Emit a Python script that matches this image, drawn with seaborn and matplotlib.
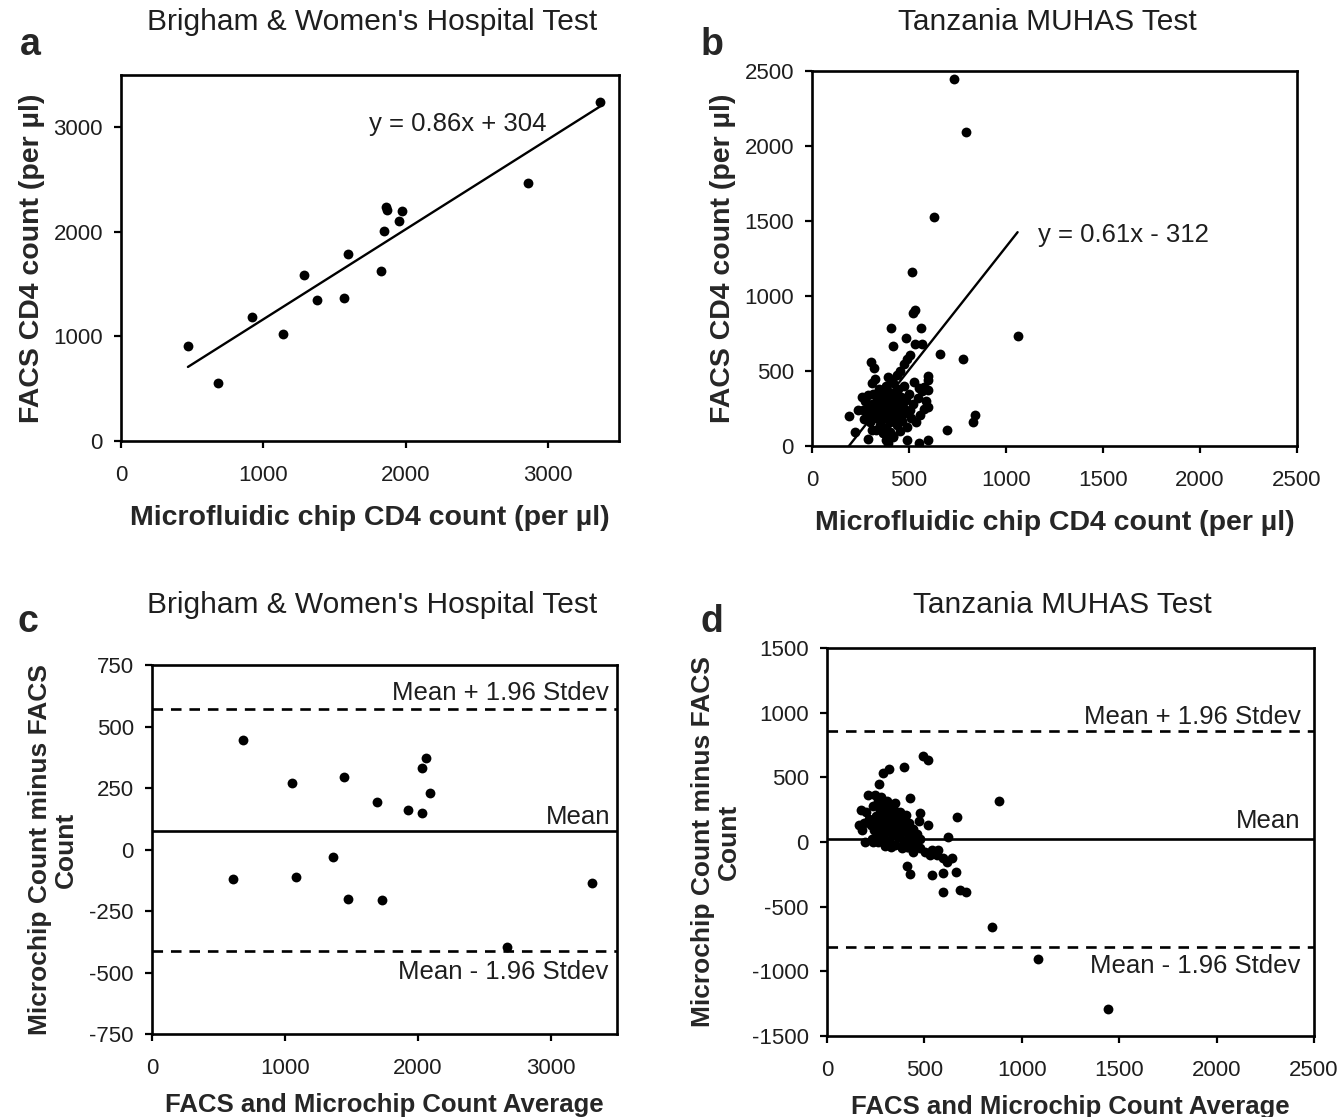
import matplotlib
matplotlib.use("Agg")
import matplotlib.pyplot as plt
import pandas as pd
import seaborn as sns

# --- panel a: Brigham & Women's, chip vs FACS ---
bwh_chip = [470, 680, 920, 1140, 1285, 1375, 1565, 1595, 1830, 1850, 1865, 1870, 1950, 1975, 2860, 3365]
bwh_facs = [910, 550, 1190, 1020, 1590, 1350, 1365, 1790, 1630, 2005, 2240, 2205, 2100, 2200, 2470, 3240]
bwh_slope, bwh_icpt = 0.86, 304

# --- panel b: Tanzania MUHAS, chip vs FACS ---
tz_chip = [734, 794, 629, 514, 531, 523, 405, 560, 419, 485, 531, 565, 660, 780, 1060, 302, 320, 505,
           490, 472, 455, 440, 393, 410, 600, 600, 600, 600, 192, 239, 265, 222, 290, 694, 840, 828,
           393, 488, 552, 600, 308, 330, 402, 550, 575,
           260, 275, 285, 292, 300, 308, 315, 322, 330, 335, 340, 348, 352, 358, 362, 368, 372, 376,
           380, 384, 388, 392, 396, 400, 404, 408, 412, 416, 420, 424, 428, 432, 436, 440, 444, 448,
           452, 456, 460, 465, 470, 475, 480, 486, 492, 498, 505, 512, 520, 528, 536, 545, 555, 565,
           580, 590, 270, 290, 310, 330, 350, 370, 390, 410, 430, 450, 345, 365, 420, 380, 325]
tz_facs = [2445, 2093, 1525, 1162, 907, 884, 789, 789, 669, 722, 678, 678, 611, 578, 733, 562, 518, 607,
           580, 545, 500, 475, 462, 440, 467, 440, 373, 262, 200, 240, 240, 96, 44, 107, 207, 162,
           22, 40, 22, 40, 107, 107, 96, 390, 395,
           330, 300, 250, 200, 160, 280, 350, 230, 190, 310, 260, 380, 140, 220, 300, 180, 340, 250,
           400, 120, 290, 210, 360, 160, 270, 320, 230, 70, 420, 190, 300, 350, 140, 250, 380, 210,
           290, 100, 330, 170, 260, 400, 220, 310, 130, 350, 240, 190, 280, 430, 160, 320, 210, 370,
           250, 300, 180, 340, 420, 230, 290, 360, 200, 320, 260, 300, 340, 90, 60, 40, 450]
tz_slope, tz_icpt = 1 / 0.61, -312
tz_line_x = [190, 1060]

# --- panel c: Bland-Altman, Brigham & Women's ---
bwh_avg = [686, 1053, 1443, 1692, 1925, 2030, 2036, 2059, 2091, 613, 1085, 1363, 1478, 1733, 3310, 2672]
bwh_diff = [447, 272, 293, 192, 159, 148, 333, 373, 228, -120, -110, -30, -200, -204, -137, -397]
bwh_mean, bwh_upper, bwh_lower = 75, 570, -412

# --- panel d: Bland-Altman, Tanzania MUHAS ---
tz_avg = [491, 520, 397, 320, 289, 269, 212, 246, 426, 885, 173, 166, 477, 666, 520, 623, 195, 238,
          412, 426, 537, 594, 662, 594, 683, 714, 845, 1084, 1441,
          200, 215, 225, 235, 240, 250, 255, 260, 265, 270, 275, 280, 285, 290, 295, 300, 305, 310,
          315, 320, 325, 330, 335, 340, 345, 350, 355, 360, 365, 370, 375, 380, 385, 390, 395, 400,
          405, 410, 415, 420, 430, 440, 450, 460, 470, 480, 350, 310, 275, 250, 230, 190, 180, 300,
          330, 260,
          460, 477, 503, 529, 563, 572, 597, 614, 443, 418, 383, 540, 640]
tz_diff = [665, 634, 582, 564, 531, 448, 363, 363, 338, 320, 247, 131, 227, 196, 131, 41, 3, 3,
           -186, -247, -255, -237, -229, -384, -371, -384, -661, -905, -1291,
           230, 180, 130, 280, 90, 200, 150, 320, 60, 250, 110, 190, 290, 30, 140, 230, 80, 170,
           270, 10, 120, 210, 60, 160, 250, -20, 100, 190, 40, 140, 230, -30, 80, 170, 10, 120,
           210, -40, 60, 150, 20, 100, -10, 60, 160, 20, 300, 320, 350, 40, 20, 150, 90, -30,
           -40, 0,
           -23, -49, -75, -100, -100, -62, -126, -152, -75, -36, -49, -60, -120]
tz_mean, tz_upper, tz_lower = 22, 860, -815

sns.set_theme(style="white")
plt.rcParams['font.family'] = ['Liberation Sans', 'DejaVu Sans']
plt.rcParams['axes.unicode_minus'] = False

fig = plt.figure(figsize=(13.39, 11.17), dpi=100)
ax_a = fig.add_axes([0.0904, 0.6052, 0.372, 0.3277])
ax_b = fig.add_axes([0.6064, 0.6007, 0.3622, 0.3357])
ax_c = fig.add_axes([0.1135, 0.0743, 0.3473, 0.3303])
ax_d = fig.add_axes([0.6176, 0.0725, 0.3637, 0.3474])

TXT = '#1e1e1e'


def style_axes(ax, xlim, ylim, xticks, yticks):
    ax.set_xlim(xlim)
    ax.set_ylim(ylim)
    ax.set_xticks(xticks)
    ax.set_yticks(yticks)
    for sp in ax.spines.values():
        sp.set_visible(True)
        sp.set_color('black')
        sp.set_linewidth(1.9)
    ax.tick_params(axis='both', which='major', direction='out', length=5, width=1.6,
                   color='black', labelsize=16, labelcolor=TXT,
                   bottom=True, left=True, top=False, right=False)
    ax.tick_params(axis='x', pad=12)
    ax.tick_params(axis='y', pad=8)
    ax.grid(False)


dot = dict(color='black', s=50, edgecolor='black', linewidth=0, legend=False)

# a
df_a = pd.DataFrame({'chip': bwh_chip, 'facs': bwh_facs})
sns.scatterplot(data=df_a, x='chip', y='facs', ax=ax_a, **dot)
a_x = [min(bwh_chip), max(bwh_chip)]
ax_a.plot(a_x, [bwh_slope * v + bwh_icpt for v in a_x], color='black', lw=1.7)
style_axes(ax_a, (0, 3500), (0, 3500), [0, 1000, 2000, 3000], [0, 1000, 2000, 3000])
ax_a.text(1740, 3027, 'y = 0.86x + 304', fontsize=18.5, va='center', ha='left', color=TXT)
ax_a.set_xlabel('Microfluidic chip CD4 count (per µl)', fontsize=20.5, fontweight='bold', labelpad=14)
ax_a.set_ylabel('FACS CD4 count (per µl)', fontsize=20.5, fontweight='bold', labelpad=6)

# b
df_b = pd.DataFrame({'chip': tz_chip, 'facs': tz_facs})
sns.scatterplot(data=df_b, x='chip', y='facs', ax=ax_b, **dot)
ax_b.plot(tz_line_x, [tz_slope * v + tz_icpt for v in tz_line_x], color='black', lw=1.7)
style_axes(ax_b, (0, 2500), (0, 2500), [0, 500, 1000, 1500, 2000, 2500],
           [0, 500, 1000, 1500, 2000, 2500])
ax_b.text(1165, 1410, 'y = 0.61x - 312', fontsize=18.5, va='center', ha='left', color=TXT)
ax_b.set_xlabel('Microfluidic chip CD4 count (per µl)', fontsize=20.5, fontweight='bold', labelpad=14)
ax_b.set_ylabel('FACS CD4 count (per µl)', fontsize=20.5, fontweight='bold', labelpad=6)

# c
df_c = pd.DataFrame({'avg': bwh_avg, 'diff': bwh_diff})
sns.scatterplot(data=df_c, x='avg', y='diff', ax=ax_c, **dot)
ax_c.axhline(bwh_mean, color='black', lw=1.9)
ax_c.axhline(bwh_upper, color='black', lw=1.9, linestyle=(0, (4, 3)))
ax_c.axhline(bwh_lower, color='black', lw=1.9, linestyle=(0, (4, 3)))
style_axes(ax_c, (0, 3500), (-750, 750), [0, 1000, 2000, 3000],
           [-750, -500, -250, 0, 250, 500, 750])
ax_c.text(3437, 637, 'Mean + 1.96 Stdev', fontsize=18.5, ha='right', va='center', color=TXT)
ax_c.text(3447, 134, 'Mean', fontsize=18.5, ha='right', va='center', color=TXT)
ax_c.text(3437, -498, 'Mean - 1.96 Stdev', fontsize=18.5, ha='right', va='center', color=TXT)
ax_c.set_xlabel('FACS and Microchip Count Average', fontsize=18.5, fontweight='bold', labelpad=10)
ax_c.set_ylabel('Microchip Count minus FACS\nCount', fontsize=19, fontweight='bold', labelpad=8,
                linespacing=1.1)

# d
df_d = pd.DataFrame({'avg': tz_avg, 'diff': tz_diff})
sns.scatterplot(data=df_d, x='avg', y='diff', ax=ax_d, **dot)
ax_d.axhline(tz_mean, color='black', lw=1.9)
ax_d.axhline(tz_upper, color='black', lw=1.9, linestyle=(0, (4, 3)))
ax_d.axhline(tz_lower, color='black', lw=1.9, linestyle=(0, (4, 3)))
style_axes(ax_d, (0, 2500), (-1500, 1500), [0, 500, 1000, 1500, 2000, 2500],
           [-1500, -1000, -500, 0, 500, 1000, 1500])
ax_d.text(2432, 965, 'Mean + 1.96 Stdev', fontsize=18.5, ha='right', va='center', color=TXT)
ax_d.text(2432, 159, 'Mean', fontsize=18.5, ha='right', va='center', color=TXT)
ax_d.text(2432, -960, 'Mean - 1.96 Stdev', fontsize=18.5, ha='right', va='center', color=TXT)
ax_d.set_xlabel('FACS and Microchip Count Average', fontsize=18.5, fontweight='bold', labelpad=10)
ax_d.set_ylabel('Microchip Count minus FACS\nCount', fontsize=19, fontweight='bold', labelpad=8,
                linespacing=1.1)

# titles and panel letters in figure pixels
W, H = 1339, 1117
titles = [(372, 22, "Brigham & Women's Hospital Test"), (1047, 22, 'Tanzania MUHAS Test'),
          (372, 605, "Brigham & Women's Hospital Test"), (1062, 605, 'Tanzania MUHAS Test')]
for x, y, t in titles:
    fig.text(x / W, 1 - y / H, t, fontsize=21.5, ha='center', va='center', color=TXT)

letters = [(30, 45, 'a'), (712, 45, 'b'), (28, 622, 'c'), (712, 622, 'd')]
for x, y, t in letters:
    fig.text(x / W, 1 - y / H, t, fontsize=27, fontweight='bold', ha='center', va='center')

fig.savefig('out.png', dpi=100)
